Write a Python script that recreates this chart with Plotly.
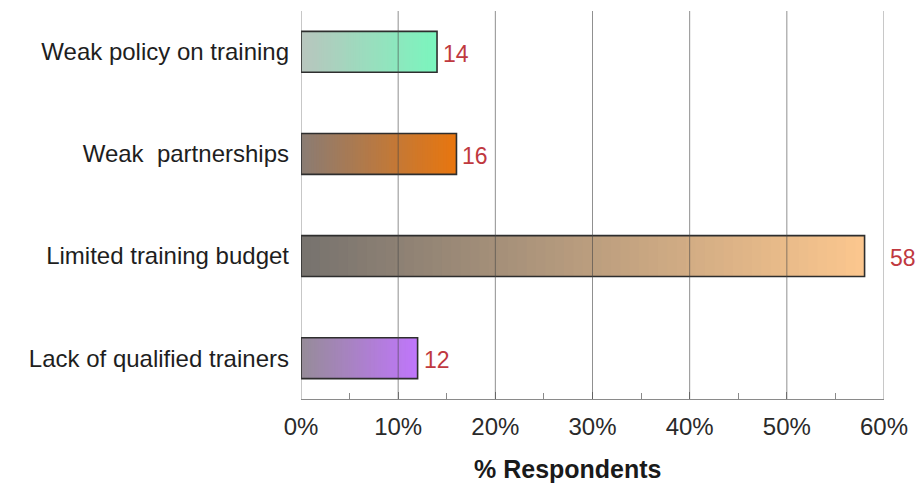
import plotly.graph_objects as go

categories = ["Weak policy on training", "Weak  partnerships",
              "Limited training budget", "Lack of qualified trainers"]
values = [14, 16, 58, 12]
left_colors = [(185, 197, 190), (138, 124, 116), (118, 114, 110), (150, 140, 152)]
right_colors = [(122, 246, 190), (233, 118, 14), (252, 199, 142), (192, 118, 252)]
tick_vals = [0, 10, 20, 30, 40, 50, 60]
tick_text = ["0%", "10%", "20%", "30%", "40%", "50%", "60%"]

FONT = "Liberation Sans, Arial, sans-serif"
N = 60

def mix(a, b, f):
    return "rgb(%d,%d,%d)" % tuple(round(a[i] + (b[i] - a[i]) * f) for i in range(3))

fig = go.Figure()

# gradient fill: longest first, shorter pieces drawn on top
for k in range(N):
    f = (N - k) / N
    fc = f - 0.5 / N
    fig.add_trace(go.Bar(
        y=categories, x=[v * f for v in values], orientation="h",
        marker=dict(color=[mix(l, r, fc) for l, r in zip(left_colors, right_colors)],
                    line=dict(width=0)),
        width=0.4, showlegend=False, hoverinfo="skip"))

# outline
fig.add_trace(go.Bar(
    y=categories, x=values, orientation="h", width=0.4,
    marker=dict(color="rgba(0,0,0,0)", line=dict(color="#2e2e2e", width=1.6)),
    showlegend=False))

vmax = max(values)
for c, v in zip(categories, values):
    fig.add_annotation(x=v, y=c, text=str(v), showarrow=False, xanchor="left",
                       xshift=23 if v == vmax else 4, yshift=-2,
                       font=dict(family=FONT, size=23, color="#c0393f"))

for t in tick_vals:
    fig.add_vline(x=t, line=dict(color="rgba(70,70,70,0.6)", width=1), layer="above")

fig.add_annotation(xref="paper", yref="paper", x=0.458, y=-0.18, yanchor="middle",
                   text="<b>% Respondents</b>", showarrow=False,
                   font=dict(family=FONT, size=25, color="#1a1a1a"))

fig.update_layout(
    barmode="overlay",
    width=919, height=493,
    margin=dict(l=301, r=35, t=11, b=94),
    plot_bgcolor="white", paper_bgcolor="white",
    xaxis=dict(range=[0, 60], tickvals=tick_vals, ticktext=tick_text,
               showgrid=False, zeroline=False,
               showline=True, linecolor="#8a8a8a", linewidth=1,
               ticks="inside", ticklen=7, tickcolor="#8a8a8a",
               minor=dict(dtick=5, ticks="inside", ticklen=6, tickcolor="#8a8a8a"),
               ticklabelstandoff=6,
               tickfont=dict(family=FONT, size=24, color="#2a2a2a"),
               fixedrange=True),
    yaxis=dict(type="category", categoryorder="array", categoryarray=categories,
               range=[3.4, -0.4], showgrid=False, showline=False, zeroline=False,
               ticks="", ticklabelstandoff=11,
               tickfont=dict(family=FONT, size=24, color="#1e1e1e"),
               fixedrange=True),
)

fig.write_html("out.html")
